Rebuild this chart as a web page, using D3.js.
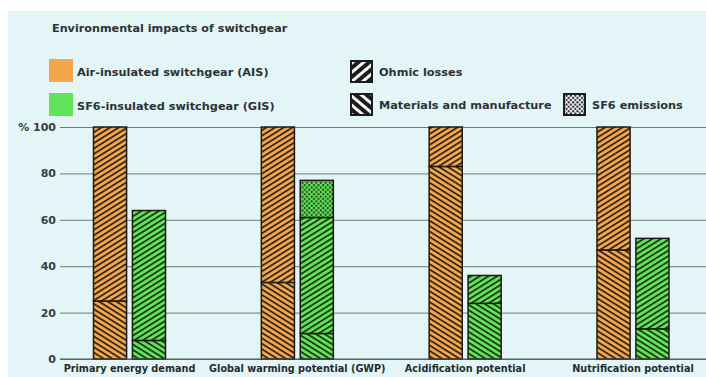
<!DOCTYPE html>
<html><head><meta charset="utf-8">
<script src="https://cdn.jsdelivr.net/npm/d3@7/dist/d3.min.js"></script>
<style>
html,body{margin:0;padding:0;background:#fff;}
svg{display:block;}
text{font-family:"DejaVu Sans",sans-serif;font-weight:bold;}
</style></head>
<body>
<script>
const categories = ["Primary energy demand","Global warming potential (GWP)","Acidification potential","Nutrification potential"];
const aisMaterials = [25, 33, 83, 47];
const aisOhmic     = [75, 67, 17, 53];
const gisMaterials = [8, 11, 24, 13];
const gisOhmic     = [56, 50, 12, 39];
const gisSF6       = [0, 16, 0, 0];
const yTicks = [0, 20, 40, 60, 80, 100];
const yTickLabels = ["0", "20", "40", "60", "80", "% 100"];
const title = "Environmental impacts of switchgear";
const seriesLegend = ["Air-insulated switchgear (AIS)", "SF6-insulated switchgear (GIS)"];
const partLegend = ["Ohmic losses", "Materials and manufacture", "SF6 emissions"];

const W = 706, H = 377;
const orange = "#f4a74a", green = "#62e45a", dark = "#2a2118";

const svg = d3.select("body").append("svg").attr("width", W).attr("height", H);
svg.append("rect").attr("width", W).attr("height", H).attr("fill", "#fff");
svg.append("rect").attr("x", 8).attr("y", 11).attr("width", W - 8).attr("height", H - 11).attr("fill", "#e3f5f7");

const defs = svg.append("defs");
function stripePattern(id, base, line, angle, period, lw) {
  const p = defs.append("pattern").attr("id", id).attr("patternUnits", "userSpaceOnUse")
    .attr("width", 10).attr("height", period).attr("patternTransform", `rotate(${angle})`);
  p.append("rect").attr("width", 10).attr("height", period).attr("fill", base);
  p.append("rect").attr("y", 0).attr("width", 10).attr("height", lw).attr("fill", line);
}
stripePattern("aisOhm", orange, dark, -32, 4.6, 1.7);
stripePattern("aisMat", orange, dark, 32, 4.6, 1.7);
stripePattern("gisOhm", green, "#17300f", -32, 4.6, 1.7);
stripePattern("gisMat", green, "#17300f", 32, 4.6, 1.7);
stripePattern("icoOhm", "#1c1c1c", "#f4f8f8", -40, 7, 3);
stripePattern("icoMat", "#1c1c1c", "#f4f8f8", 40, 7, 3);
function dotPattern(id, base, dot, s, r) {
  const p = defs.append("pattern").attr("id", id).attr("patternUnits", "userSpaceOnUse")
    .attr("width", s).attr("height", s);
  p.append("rect").attr("width", s).attr("height", s).attr("fill", base);
  p.append("circle").attr("cx", s / 4).attr("cy", s / 4).attr("r", r).attr("fill", dot);
  p.append("circle").attr("cx", 3 * s / 4).attr("cy", 3 * s / 4).attr("r", r).attr("fill", dot);
}
dotPattern("gisSF6", green, "#17300f", 4.6, 1.05);
dotPattern("icoSF6", "#f4f8f8", "#1c1c1c", 4.4, 1.1);

// scales
const y = d3.scaleLinear().domain([0, 100]).range([359, 127]);
const x0 = d3.scalePoint().domain(categories).range([129.5, 633]);
const x1 = d3.scaleBand().domain(["AIS", "GIS"]).range([-36, 36]).paddingInner(0.15);

// grid + y labels
const yAxis = d3.axisLeft(y).tickValues(yTicks).tickSize(-(W - 60)).tickPadding(5)
  .tickFormat((d, i) => yTickLabels[i]);
const ga = svg.append("g").attr("transform", "translate(60,0)").call(yAxis);
ga.select(".domain").remove();
ga.selectAll(".tick line").attr("stroke", "#707878").attr("stroke-width", 1);
ga.selectAll(".tick text").attr("fill", "#3a3d3f").attr("font-size", 11)
  .attr("font-family", "DejaVu Sans").attr("font-weight", "bold").attr("x", -4);

// stacks
const keys = ["mat", "ohm", "sf6"];
const aisRows = categories.map((c, i) => ({ cat: c, mat: aisMaterials[i], ohm: aisOhmic[i], sf6: 0 }));
const gisRows = categories.map((c, i) => ({ cat: c, mat: gisMaterials[i], ohm: gisOhmic[i], sf6: gisSF6[i] }));
const stack = d3.stack().keys(keys);
const fills = { AIS: { mat: "url(#aisMat)", ohm: "url(#aisOhm)", sf6: "url(#aisOhm)" },
                GIS: { mat: "url(#gisMat)", ohm: "url(#gisOhm)", sf6: "url(#gisSF6)" } };

[["AIS", aisRows], ["GIS", gisRows]].forEach(([s, rows]) => {
  const st = stack(rows);
  st.forEach(layer => {
    svg.append("g").selectAll("rect").data(layer.filter(d => d[1] - d[0] > 0)).join("rect")
      .attr("x", d => x0(d.data.cat) + x1(s))
      .attr("width", x1.bandwidth())
      .attr("y", d => y(d[1]))
      .attr("height", d => y(d[0]) - y(d[1]))
      .attr("fill", fills[s][layer.key])
      .attr("stroke", "#1e1a14").attr("stroke-width", 1.5);
  });
});

// baseline
svg.append("line").attr("x1", 60).attr("x2", W).attr("y1", y(0)).attr("y2", y(0))
  .attr("stroke", "#4a5050").attr("stroke-width", 1);

// category labels
svg.append("g").selectAll("text").data(categories).join("text")
  .attr("x", d => x0(d)).attr("y", 372).attr("text-anchor", "middle")
  .attr("font-size", 9.7).attr("fill", "#262a2c").text(d => d);

// title
svg.append("text").attr("x", 52).attr("y", 32).attr("font-size", 11.2).attr("fill", "#2e3234").text(title);

// series legend
const sCol = [orange, green];
seriesLegend.forEach((t, i) => {
  const yy = 59 + i * 34;
  svg.append("rect").attr("x", 49).attr("y", yy).attr("width", 24).attr("height", 23).attr("fill", sCol[i]);
  svg.append("text").attr("x", 77).attr("y", yy + 16.5).attr("font-size", 11.3).attr("fill", "#2e3234").text(t);
});

// part legend
const parts = [
  { t: partLegend[0], x: 350, y: 60, f: "url(#icoOhm)" },
  { t: partLegend[1], x: 350, y: 93, f: "url(#icoMat)" },
  { t: partLegend[2], x: 563, y: 93, f: "url(#icoSF6)" }
];
parts.forEach(p => {
  svg.append("rect").attr("x", p.x + 1).attr("y", p.y + 1).attr("width", 21).attr("height", 21)
    .attr("fill", p.f).attr("stroke", "#1c1c1c").attr("stroke-width", 2);
  svg.append("text").attr("x", p.x + 29).attr("y", p.y + 15.5).attr("font-size", 11.3).attr("fill", "#2e3234").text(p.t);
});
</script>
</body></html>
